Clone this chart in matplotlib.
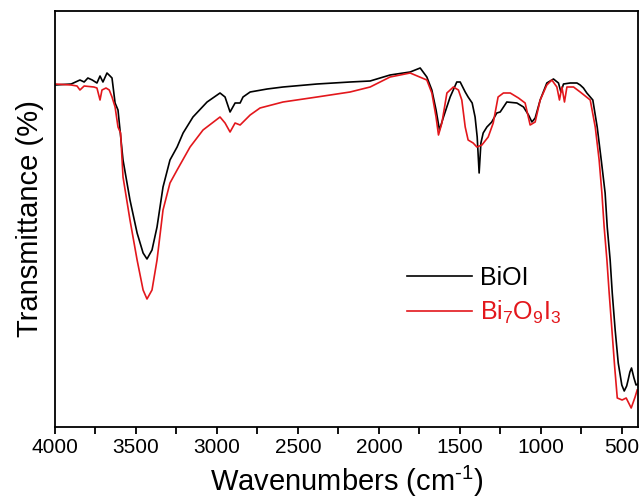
import numpy as np
import matplotlib
matplotlib.use('Agg')
import matplotlib.pyplot as plt

plt.rcParams['font.family'] = ['Liberation Sans', 'DejaVu Sans']
plt.rcParams['mathtext.fontset'] = 'custom'
plt.rcParams['mathtext.rm'] = 'Liberation Sans'
plt.rcParams['mathtext.sf'] = 'Liberation Sans'
plt.rcParams['mathtext.default'] = 'regular'

# BiOI spectrum (wavenumber, transmittance in arbitrary units)
wn_bioi = [4000, 3900, 3846, 3820, 3797, 3770, 3741, 3722, 3704, 3679, 3660, 3648,
           3629, 3611, 3580, 3537, 3493, 3456, 3432, 3401, 3370, 3333, 3290, 3246,
           3209, 3148, 3061, 2981, 2950, 2919, 2888, 2857, 2839, 2795, 2690, 2592,
           2382, 2178, 2054, 1931, 1807, 1745, 1704, 1673, 1647, 1626, 1601, 1560,
           1519, 1498, 1467, 1449, 1424, 1406, 1393, 1381, 1370, 1356, 1333, 1303,
           1272, 1251, 1210, 1148, 1107, 1076, 1055, 1035, 1004, 963, 922, 891,
           876, 860, 819, 777, 757, 737, 716, 679, 652, 627, 603, 590, 572, 559,
           541, 522, 500, 485, 470, 461, 450, 440, 425, 412, 400]
t_bioi = [342, 343, 347, 345, 349, 347, 344, 351, 345, 354, 351, 349,
          324, 317, 267, 227, 194, 174, 168, 177, 200, 240, 267, 280,
          294, 310, 325, 334, 330, 315, 324, 324, 330, 335, 338, 340,
          343, 345, 346, 352, 355, 359, 350, 337, 317, 297, 310, 330,
          345, 345, 335, 330, 324, 310, 290, 254, 284, 294, 300, 305,
          314, 315, 325, 324, 320, 312, 305, 309, 327, 344, 348, 344,
          335, 343, 344, 344, 342, 339, 334, 327, 300, 267, 234, 200, 167, 134,
          97, 64, 42, 36, 41, 47, 55, 59, 49, 42, 43]

# Bi7O9I3 spectrum
wn_bi7 = [4000, 3900, 3864, 3846, 3820, 3760, 3741, 3722, 3710, 3685, 3665, 3648,
          3629, 3611, 3595, 3580, 3537, 3493, 3456, 3432, 3401, 3370, 3333, 3290,
          3246, 3166, 3086, 2981, 2950, 2919, 2888, 2857, 2795, 2734, 2592, 2382,
          2178, 2054, 1931, 1807, 1704, 1673, 1647, 1632, 1611, 1580, 1540, 1509,
          1488, 1467, 1449, 1418, 1395, 1364, 1325, 1294, 1264, 1231, 1189, 1138,
          1097, 1066, 1035, 1004, 963, 932, 901, 885, 870, 854, 839, 798, 757,
          695, 664, 640, 623, 609, 592, 578, 561, 544, 528, 498, 473, 442, 418, 405]
t_bi7 = [343, 342, 341, 337, 341, 340, 339, 327, 337, 339, 337, 330,
         320, 300, 294, 250, 207, 167, 137, 128, 137, 167, 217, 244,
         257, 280, 297, 310, 304, 295, 304, 302, 312, 319, 325, 330,
         335, 340, 350, 354, 347, 334, 310, 292, 304, 334, 340, 337,
         327, 300, 287, 284, 280, 282, 290, 304, 330, 334, 334, 329,
         324, 302, 305, 327, 342, 347, 340, 327, 340, 325, 340, 340, 335,
         327, 300, 267, 234, 200, 167, 134, 97, 60, 29, 27, 29, 19, 30, 37]

fig = plt.figure(figsize=(6.44, 5.03), dpi=100)
ax = fig.add_axes([55 / 644, 76 / 503, 583 / 644, 416 / 503])

ax.plot(wn_bioi, t_bioi, color='black', lw=1.2, label='BiOI')
ax.plot(wn_bi7, t_bi7, color='#e3171c', lw=1.2,
        label=r'Bi$_{\mathsf{7}}$O$_{\mathsf{9}}$I$_{\mathsf{3}}$')

ax.set_xlim(4000, 400)
ax.set_ylim(0, 416)
ax.set_xticks([4000, 3500, 3000, 2500, 2000, 1500, 1000, 500])
ax.set_xticks(np.arange(3750, 400, -500), minor=True)
ax.set_yticks([])
ax.tick_params(axis='x', which='both', direction='out', length=5, width=1.3,
               labelsize=15, pad=3)
for s in ax.spines.values():
    s.set_linewidth(1.3)

ax.set_xlabel('Wavenumbers (cm$^{\u2010 1}$)', fontsize=21, labelpad=5)
ax.set_ylabel('Transmittance (%)', fontsize=21, labelpad=8)

ax.legend(loc='upper left', bbox_to_anchor=(0.604, 0.388), frameon=False,
          fontsize=18, handlelength=2.6, handletextpad=0.32, labelspacing=0.38,
          borderpad=0, borderaxespad=0, labelcolor='linecolor')

fig.savefig('out.png', dpi=100)
